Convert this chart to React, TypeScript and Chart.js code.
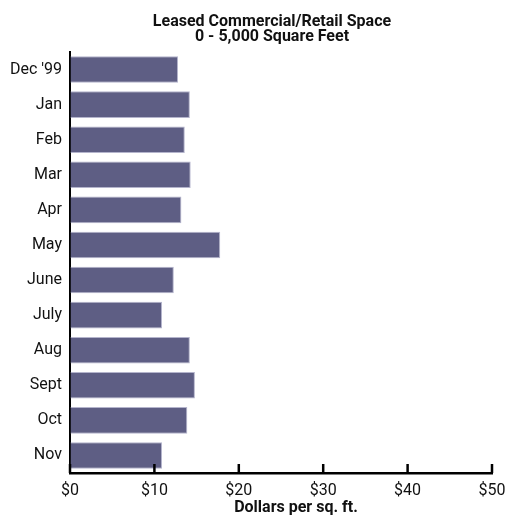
import React, { useEffect, useRef } from "react";
import { Chart, registerables } from "chart.js";

Chart.register(...registerables);

const months = ["Dec '99", "Jan", "Feb", "Mar", "Apr", "May", "June", "July", "Aug", "Sept", "Oct", "Nov"];
const dollarsPerSqFt = [12.8, 14.2, 13.6, 14.3, 13.2, 17.8, 12.3, 10.9, 14.2, 14.8, 13.9, 10.9];
const xTickValues = [0, 10, 20, 30, 40, 50];
const titleLines = ["Leased Commercial/Retail Space", "0 - 5,000 Square Feet"];
const xAxisTitle = "Dollars per sq. ft.";

const FONT = "Roboto, 'Liberation Sans', sans-serif";

// Draws the centred titles and the inward tick marks on the value axis.
const decorations = {
  id: "decorations",
  afterDraw(chart: any) {
    const { ctx, chartArea } = chart;
    const x = chart.scales.x;
    ctx.save();
    ctx.fillStyle = "#111";
    ctx.textAlign = "center";
    ctx.textBaseline = "alphabetic";
    ctx.font = `bold 16px ${FONT}`;
    ctx.fillText(titleLines[0], 272, 26);
    ctx.fillText(titleLines[1], 272, 41);
    ctx.fillText(xAxisTitle, 296, 512);

    ctx.strokeStyle = "#000";
    ctx.lineWidth = 2.5;
    for (const v of xTickValues) {
      const px = x.getPixelForValue(v);
      ctx.beginPath();
      ctx.moveTo(px, chartArea.bottom);
      ctx.lineTo(px, chartArea.bottom - 9);
      ctx.stroke();
    }
    ctx.restore();
  },
};

export default function App() {
  const canvasRef = useRef<HTMLCanvasElement | null>(null);

  useEffect(() => {
    const canvas = canvasRef.current;
    if (!canvas) return;
    const chart = new Chart(canvas, {
      type: "bar",
      data: {
        labels: months,
        datasets: [
          {
            data: dollarsPerSqFt,
            backgroundColor: "#5e5e84",
            borderColor: "#b4b4cc",
            borderWidth: { top: 1, right: 1, bottom: 1, left: 0 },
            borderSkipped: false,
            categoryPercentage: 1,
            barPercentage: 0.76,
          },
        ],
      },
      options: {
        indexAxis: "y",
        animation: false,
        responsive: false,
        layout: { padding: { top: 52, right: 14, left: 0, bottom: 0 } },
        plugins: {
          legend: { display: false },
          title: { display: false },
          tooltip: { enabled: false },
        },
        scales: {
          x: {
            min: 0,
            max: 50,
            afterFit(scale: any) {
              scale.height = 516 - 473;
              scale.paddingRight = 0;
              scale.paddingLeft = 0;
            },
            afterBuildTicks(scale: any) {
              scale.ticks = xTickValues.map((v) => ({ value: v }));
            },
            grid: { display: true, drawOnChartArea: false, drawTicks: false },
            border: { display: true, color: "#000", width: 2.5 },
            ticks: {
              padding: 8,
              color: "#111",
              font: { family: FONT, size: 16 },
              callback: (v: any) => `$${v}`,
              maxRotation: 0,
            },
          },
          y: {
            afterFit(scale: any) {
              scale.width = 70;
              scale.paddingTop = 0;
              scale.paddingBottom = 0;
            },
            grid: { display: true, drawOnChartArea: false, drawTicks: false },
            border: { display: true, color: "#000", width: 2 },
            ticks: {
              padding: 8,
              color: "#111",
              font: { family: FONT, size: 16 },
            },
          },
        },
      },
      plugins: [decorations],
    });
    return () => chart.destroy();
  }, []);

  return (
    <div style={{ position: "fixed", left: 0, top: 0, width: 506, height: 516, background: "#fff" }}>
      <canvas ref={canvasRef} width={506} height={516} style={{ display: "block" }} />
    </div>
  );
}
